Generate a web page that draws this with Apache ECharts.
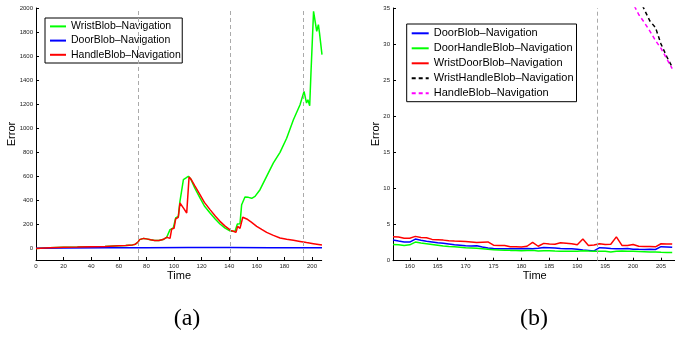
<!DOCTYPE html>
<html><head><meta charset="utf-8">
<script src="https://cdn.jsdelivr.net/npm/echarts@6/dist/echarts.min.js"></script>
<style>
html,body{margin:0;padding:0;background:#fff;}
#a{position:absolute;left:0;top:0;width:340px;height:337px;}
#b{position:absolute;left:340px;top:0;width:335px;height:337px;}
</style>
</head><body><div id="a"></div><div id="b"></div>
<script>
// ---------- Chart (a) data ----------
const namesA = ['WristBlob–Navigation', 'DoorBlob–Navigation', 'HandleBlob–Navigation'];
const wristT = [0,10,20,30,40,50,60,65,70,72,74,75,76,78,80,83,86,89,92,94.7,97.1,99.5,101.2,103.1,104.3,105.6,106.8,108.7,110.4,112.1,115,118.8,122,126.1,130,133.3,137,141.1,144.2,145.9,147.8,149,150.2,151.4,153.9,156.3,158.7,162.3,167.1,172,176.8,181.6,186.5,191.3,194.2,196,197,198.3,199.2,200.3,201.1,203.4,204.6,205.4,207.2];
const wristV = [-5,3,7,8,10,12,18,20,26,32,50,70,82,80,76,68,62,62,70,89,153,167,250,264,389,397,570,584,598,575,500,417,350,292,240,200,165,139,139,200,203,361,375,425,422,414,430,486,597,709,797,915,1069,1194,1305,1208,1236,1186,1452,1452,1972,1806,1861,1792,1611];
const doorT = [0,20,50,80,110,140,170,207.2];
const doorV = [-3,0,2,3,4,4,3,3];
const handleT = [0,10,20,30,40,50,60,65,70,72,74,75,76,78,80,83,86,89,92,94.7,97.1,98.3,100,101.2,103.1,104.3,107,109.2,110.9,112.5,115,118.8,122,126.1,130,133.3,137,141.1,143,144.9,146.1,147.8,149.8,152.7,156,159.9,163.5,167.1,172,176.8,181.6,186.5,191.3,196,201,207.2];
const handleV = [-5,3,7,8,10,12,18,20,26,32,50,70,82,80,76,68,62,62,70,89,80,158,164,242,256,375,330,292,592,570,520,445,380,320,265,222,182,147,140,130,180,164,256,242,215,181,155,130,105,83,72,64,55,45,36,25];
const xTicksA = [0,20,40,60,80,100,120,140,160,180,200];
const yTicksA = [0,200,400,600,800,1000,1200,1400,1600,1800,2000];
const eventsA = [74, 141, 193.4];

// ---------- Chart (b) data ----------
const namesB = ['DoorBlob–Navigation', 'DoorHandleBlob–Navigation', 'WristDoorBlob–Navigation', 'WristHandleBlob–Navigation', 'HandleBlob–Navigation'];
const timeB = [157,158,159,160,161,162,163,164,165,166,167,168,169,170,171,172,173,174,175,176,177,178,179,180,181,182,183,184,185,186,187,188,189,190,191,192,193,194,195,196,197,198,199,200,201,202,203,204,205,206,207];
const doorB = [2.86,2.72,2.6,2.58,3.0,2.82,2.7,2.6,2.5,2.42,2.32,2.22,2.15,2.08,2.03,2.08,1.9,1.75,1.7,1.66,1.66,1.65,1.65,1.66,1.7,1.66,1.72,1.82,1.8,1.75,1.7,1.66,1.66,1.6,1.48,1.43,1.36,1.8,1.75,1.7,1.66,1.65,1.68,1.6,1.57,1.55,1.57,1.55,1.94,1.9,1.85];
const doorHandleB = [2.26,2.22,2.12,2.2,2.58,2.45,2.35,2.25,2.15,2.05,1.98,1.92,1.86,1.8,1.76,1.72,1.65,1.57,1.53,1.48,1.46,1.43,1.41,1.39,1.41,1.43,1.34,1.37,1.39,1.34,1.32,1.3,1.3,1.32,1.39,1.33,1.3,1.3,1.3,1.22,1.3,1.34,1.3,1.3,1.28,1.25,1.22,1.2,1.17,1.15,1.14];
const wristDoorB = [3.32,3.28,3.1,3.1,3.37,3.2,3.18,2.95,2.9,2.85,2.75,2.72,2.7,2.66,2.6,2.52,2.56,2.6,2.15,2.12,2.1,1.94,1.92,1.9,2.0,2.54,2.0,2.4,2.3,2.28,2.48,2.42,2.35,2.22,3.0,2.12,2.18,2.35,2.25,2.28,3.3,2.12,2.1,2.25,2.0,1.95,1.95,1.92,2.35,2.33,2.3];
const wristHandleT = [200,201,202,203,204,205,206,207];
const wristHandleV = [39,36.5,34.8,33.2,32.3,30.0,28.3,26.8];
const handleBT = [199,200,201,202,203,204,205,206,207];
const handleBV = [38,35.6,34.1,33.0,31.8,30.5,29.4,28.0,26.6];
const xTicksB = [160,165,170,175,180,185,190,195,200,205];
const yTicksB = [0,5,10,15,20,25,30,35];
const eventsB = [193.5];

// ---------- helpers ----------
const FF = 'Liberation Sans, Arial, Helvetica, sans-serif';
const pairs = (t, v) => t.map((x, i) => [x, v[i]]);
function axis(min, max, ticks) {
  return {
    type: 'value', min: min, max: max,
    axisLine: { show: true, onZero: false, lineStyle: { color: '#000', width: 1 } },
    axisTick: { show: true, inside: true, length: 3, customValues: ticks, lineStyle: { color: '#000', width: 1 } },
    axisLabel: { customValues: ticks, fontSize: 6, color: '#222', margin: 3, fontFamily: FF, formatter: v => String(v) },
    splitLine: { show: false }
  };
}
function line(name, data, color, dashed, z) {
  return {
    type: 'line', name: name, data: data, symbol: 'none', showSymbol: false,
    lineStyle: { color: color, width: 1.5, type: dashed ? [4, 3] : 'solid' },
    itemStyle: { color: color }, z: z, animation: false, clip: true
  };
}
function eventLines(vals) {
  return {
    silent: true, symbol: ['none', 'none'], label: { show: false }, animation: false,
    lineStyle: { color: '#aaa', width: 1, type: [4, 3] },
    data: vals.map(v => ({ xAxis: v }))
  };
}
function txt(x, y, s, size, rot, family) {
  return { type: 'text', x: x, y: y, rotation: rot || 0, silent: true,
    style: { text: s, fontSize: size, fontFamily: family || FF, fill: '#000', align: 'center', verticalAlign: 'middle' } };
}
function legend(left, top, names, pad, iw, gap, fs) {
  return {
    left: left, top: top, orient: 'vertical', data: names,
    padding: pad, itemWidth: iw, itemHeight: 12, itemGap: gap,
    borderColor: '#000', borderWidth: 1, backgroundColor: '#fff',
    itemStyle: { opacity: 0 },
    textStyle: { fontSize: fs, fontFamily: FF, color: '#000', lineHeight: 12 },
    selectedMode: false
  };
}

// ---------- chart (a) ----------
const ca = echarts.init(document.getElementById('a'), null, { renderer: 'canvas' });
const sA = [
  line(namesA[0], pairs(wristT, wristV), '#00ff00', false, 2),
  line(namesA[1], pairs(doorT, doorV), '#0000ff', false, 3),
  line(namesA[2], pairs(handleT, handleV), '#ff0000', false, 4)
];
sA[0].markLine = eventLines(eventsA);
ca.setOption({
  animation: false,
  grid: { left: 36, top: 8, width: 285.7, height: 252 },
  xAxis: axis(0, 207, xTicksA),
  yAxis: axis(-100, 2000, yTicksA),
  legend: legend(45, 18, namesA, [2.4, 1.5, 2.2, 4], 16, 2.2, 10.5),
  series: sA,
  graphic: [
    txt(179, 275.7, 'Time', 11),
    txt(11.5, 134, 'Error', 11, Math.PI / 2),
    txt(187, 319, '(a)', 24, 0, 'Liberation Serif, Times New Roman, serif')
  ]
});

// ---------- chart (b) ----------
const cb = echarts.init(document.getElementById('b'), null, { renderer: 'canvas' });
const sB = [
  line(namesB[0], pairs(timeB, doorB), '#0000ff', false, 2),
  line(namesB[1], pairs(timeB, doorHandleB), '#00ff00', false, 3),
  line(namesB[2], pairs(timeB, wristDoorB), '#ff0000', false, 4),
  line(namesB[3], pairs(wristHandleT, wristHandleV), '#000000', true, 5),
  line(namesB[4], pairs(handleBT, handleBV), '#ff00ff', true, 6)
];
sB[0].markLine = eventLines(eventsB);
cb.setOption({
  animation: false,
  grid: { left: 53, top: 8, width: 282.8, height: 252.7 },
  xAxis: axis(157, 207.5, xTicksB),
  yAxis: axis(0, 35, yTicksB),
  legend: legend(66.7, 24, namesB, [3.3, 3, 2.4, 4], 17, 3, 11),
  series: sB,
  graphic: [
    txt(194.7, 275.7, 'Time', 11),
    txt(36, 134, 'Error', 11, Math.PI / 2),
    txt(194, 319, '(b)', 24, 0, 'Liberation Serif, Times New Roman, serif')
  ]
});
</script></body></html>
